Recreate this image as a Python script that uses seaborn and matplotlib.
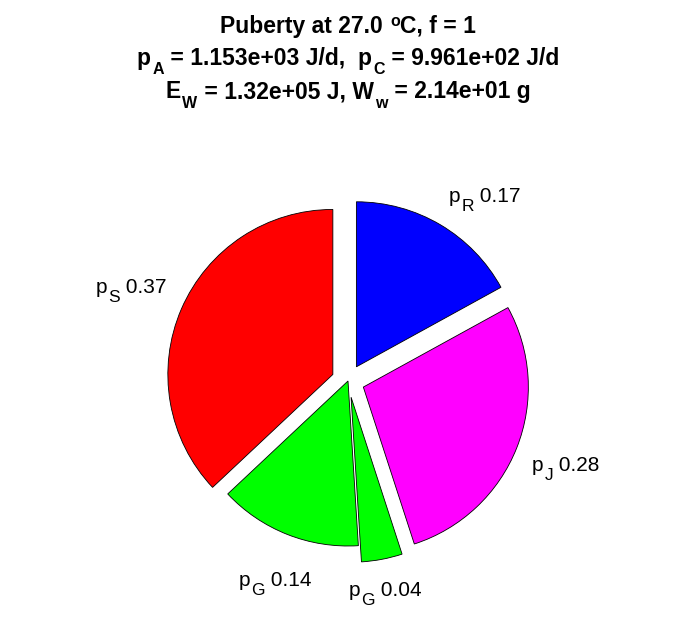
import numpy as np
import matplotlib
matplotlib.use("Agg")
import matplotlib.pyplot as plt
from matplotlib.transforms import IdentityTransform
import seaborn as sns

# data
names = ["R", "J", "G", "G", "S"]
fractions = [0.17, 0.28, 0.04, 0.14, 0.37]
colors = ["#0000FF", "#FF00FF", "#00FF00", "#00FF00", "#FF0000"]
explode = [0.1, 0.1, 0.1, 0.0, 0.1]
title_line1 = [("Puberty at 27.0 ", "n"), ("o", "sup"), ("C, f = 1", "n")]
title_line2 = [("p", "n"), ("A", "sub"), (" = 1.153e+03 J/d,  p", "n"),
               ("C", "sub"), (" = 9.961e+02 J/d", "n")]
title_line3 = [("E", "n"), ("W", "sub"), (" = 1.32e+05 J, W", "n"),
               ("w", "sub"), (" = 2.14e+01 g", "n")]

sns.set_theme(style="white")
plt.rcParams["font.family"] = ["Liberation Sans", "DejaVu Sans"]

W, H = 696, 618
fig = plt.figure(figsize=(W / 100, H / 100), dpi=100)
S = 462
ax = fig.add_axes([(348 - S / 2) / W, (237 - S / 2) / H, S / W, S / H])

wedges, _ = ax.pie(
    fractions,
    colors=colors,
    explode=explode,
    startangle=90,
    counterclock=False,
    wedgeprops=dict(edgecolor="black", linewidth=0.6),
    normalize=False,
)
ax.set_xlim(-1.4, 1.4)
ax.set_ylim(-1.4, 1.4)
ax.set_aspect("equal")
ax.axis("off")

fig.canvas.draw()
renderer = fig.canvas.get_renderer()
ID = IdentityTransform()


def seg_width(s, size, weight):
    t = fig.text(0, 0, "|" + s + "|", fontsize=size, fontweight=weight, transform=ID)
    w1 = t.get_window_extent(renderer).width
    t.set_text("||")
    w2 = t.get_window_extent(renderer).width
    t.remove()
    return w1 - w2


def rich(x, y_base, segs, ha, size, subsize, drop, rise, weight, gap=1.5):
    sizes = [size if m == "n" else subsize for _, m in segs]
    widths = [seg_width(s, sz, weight) + (gap if m != "n" else 0)
              for (s, m), sz in zip(segs, sizes)]
    total = sum(widths)
    if ha == "center":
        x0 = x - total / 2
    elif ha == "right":
        x0 = x - total
    else:
        x0 = x
    for (s, m), sz, w in zip(segs, sizes, widths):
        dy = 0 if m == "n" else (-drop if m == "sub" else rise)
        xs = x0 + (gap if m != "n" else 0)
        fig.text(xs, y_base + dy, s, fontsize=sz, fontweight=weight,
                 ha="left", va="baseline", color="black", transform=ID)
        x0 += w


# title lines (baselines measured from top, in px)
for yb, segs in zip([33, 65, 98], [title_line1, title_line2, title_line3]):
    rich(W / 2, H - yb, segs, "center", 16.5, 11.5, 9.5, 7.5, "bold")

# slice labels, placed at 1.2 radius from the pie centre
lab_size, lab_sub, lab_drop = 15, 12.5, 9
capH = 0.716 * lab_size * 100 / 72
for w, n, f in zip(wedges, names, fractions):
    th = np.deg2rad((w.theta1 + w.theta2) / 2)
    c, s = np.cos(th), np.sin(th)
    px, py = ax.transData.transform((1.2 * w.r * c, 1.2 * w.r * s))
    if abs(c) < 0.45:
        ha = "center"
    else:
        ha = "left" if c > 0 else "right"
    if s > 0:
        base = py + lab_drop
    else:
        base = py - capH - 6 * abs(s)
    rich(px, base, [("p", "n"), (n, "sub"), (f" {f:.2f}", "n")], ha,
         lab_size, lab_sub, lab_drop, 0, "normal", gap=1.0)

fig.savefig("out.png", dpi=100)
